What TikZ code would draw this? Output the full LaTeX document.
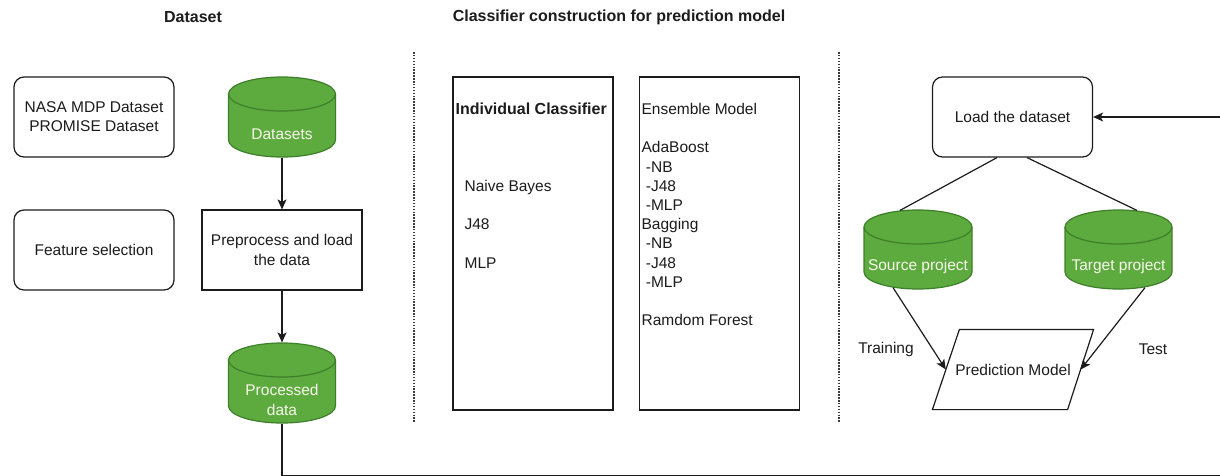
\documentclass[tikz,border=0pt]{standalone}
\usepackage{fontspec}
\setmainfont{Liberation Sans}
\usetikzlibrary{arrows.meta,calc}

\definecolor{cylfill}{RGB}{93,170,63}
\definecolor{cylline}{RGB}{62,128,42}
\definecolor{cyltext}{RGB}{248,248,236}
\definecolor{ink}{RGB}{28,28,28}
\definecolor{sepgray}{RGB}{60,60,60}

% database cylinder body: centre x, top y, bottom y, half width (pixel units, y downwards)
\newcommand\dbshape[4]{%
  \filldraw[fill=cylfill, draw=cylline]
    ({#1-#4},{-#2-17}) -- ({#1-#4},{-#3+17})
    arc[start angle=180, end angle=360, x radius=#4, y radius=17]
    -- ({#1+#4},{-#2-17})
    arc[start angle=0, end angle=180, x radius=#4, y radius=17] -- cycle;
  \draw[cylline] ({#1-#4},{-#2-17})
    arc[start angle=180, end angle=360, x radius=#4, y radius=17];
}

\begin{document}
\begin{tikzpicture}[x=1pt, y=1pt, line width=1.2pt, draw=ink,
  every node/.style={font=\fontsize{15.5}{19.2}\selectfont, text=ink},
  headline/.style={font=\bfseries\fontsize{16}{19}\selectfont},
  rbox/.style={draw, rounded corners=10pt, minimum width=160pt, minimum height=80pt, inner sep=0pt, align=center},
  sbox/.style={draw, minimum width=160pt, minimum height=80pt, inner sep=0pt, align=center},
  tallbox/.style={draw, minimum width=160pt, minimum height=333pt, inner sep=0pt},
  cylanchor/.style={minimum width=107pt, minimum height=#1, inner sep=0pt},
  cyllabel/.style={yshift=-17pt, text=cyltext, align=center, inner sep=0pt},
  listtext/.style={anchor=west, align=left, inner sep=0pt},
  arr/.style={-{Stealth[length=10pt, width=9pt, inset=2.5pt]}},
  sepline/.style={draw=sepgray, line width=1.4pt, dash pattern=on 1.5pt off 1.4pt}
]
\useasboundingbox (0,0) rectangle (1220,-475);
\fill[white] (0,0) rectangle (1220,-475);

% section headings
\node[headline] (hdata) at (193,-17) {Dataset};
\node[headline] (hclass) at (619,-17) {Classifier construction for prediction model};

% section separators
\draw[sepline] (414,-52) -- (414,-422);
\draw[sepline] (839,-52) -- (839,-422);

% ---- dataset column
\node[rbox] (nasa) at (94,-117) {NASA MDP Dataset\\PROMISE Dataset};
\node[rbox] (feat) at (94,-250) {Feature selection};

\dbshape{282}{77}{157}{53.5}
\node[cylanchor=80pt, label={[cyllabel]center:Datasets}] (ds) at (282,-117) {};

\node[sbox] (pre) at (282,-250) {Preprocess and load\\the data};

\dbshape{282}{343}{423}{53.5}
\node[cylanchor=80pt, label={[cyllabel]center:Processed\\data}] (pd) at (282,-383) {};

% ---- classifier column
\node[tallbox] (indiv) at (533,-243.5) {};
\node[tallbox] (ens) at (719.5,-243.5) {};

\node[listtext, font=\bfseries\fontsize{16}{19}\selectfont] (indtitle) at (455,-109) {Individual Classifier};
\node[listtext] (indlist) at (464,-224) {Naive Bayes\\[19.2pt]J48\\[19.2pt]MLP};

\node[listtext] (enslist) at (641,-214.5) {Ensemble Model\\[19.2pt]AdaBoost\\
  \hspace*{4.3pt}-NB\\ \hspace*{4.3pt}-J48\\ \hspace*{4.3pt}-MLP\\
  Bagging\\ \hspace*{4.3pt}-NB\\ \hspace*{4.3pt}-J48\\ \hspace*{4.3pt}-MLP\\[19.2pt]
  Ramdom Forest};

% ---- prediction column
\node[rbox] (load) at (1012.5,-117) {Load the dataset};

\dbshape{918}{210}{289}{54}
\node[cylanchor=79pt, label={[cyllabel]center:Source project}] (src) at (918,-249.5) {};
\dbshape{1118.5}{210}{289}{53.5}
\node[cylanchor=79pt, label={[cyllabel]center:Target project}] (tgt) at (1118.5,-249.5) {};

\node[minimum width=160pt, minimum height=79pt, inner sep=0pt] (pm) at (1013,-369.5) {Prediction Model};
\draw ([xshift=27pt]pm.north west) -- (pm.north east)
      -- ([xshift=-26pt]pm.south east) -- (pm.south west) -- cycle;

\node (train) at (886,-349) {Training};
\node (test) at (1153,-349) {Test};

% ---- connectors
\draw[arr] (ds.south) -- (pre.north);
\draw[arr] (pre.south) -- (pd.north);

% feedback loop runs along the lower edge and re-enters from the right
\coordinate (c1) at (282,-475.3);
\coordinate (c2) at (1222,-475.3);
\coordinate (c3) at (1222,-117);
\draw[arr] (pd.south) -- (c1) -- (c2) -- (c3) -- (load.east);

\draw ([xshift=-15.5pt]load.south) -- ([xshift=-18pt, yshift=-1pt]src.north);
\draw ([xshift=14.5pt]load.south) -- ([xshift=18.5pt, yshift=-1pt]tgt.north);

\draw[arr] ([xshift=-25pt, yshift=2pt]src.south) -- ([xshift=13.4pt]pm.west);
\draw[arr] ([xshift=26.5pt, yshift=2pt]tgt.south) -- ([xshift=-13pt]pm.east);
\end{tikzpicture}
\end{document}
